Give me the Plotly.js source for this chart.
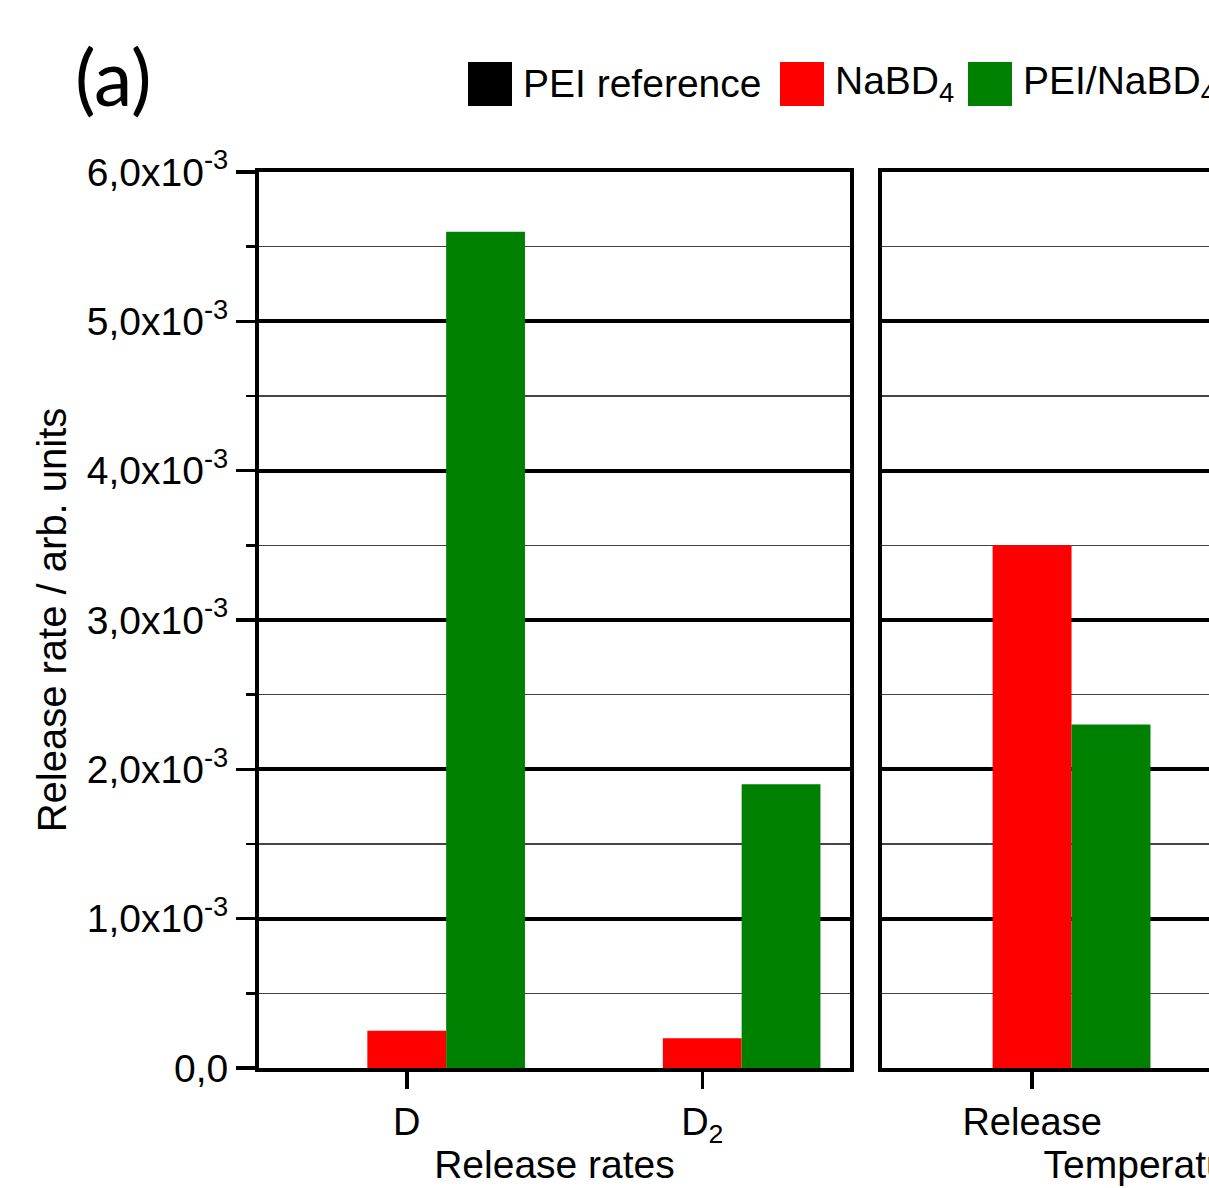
<!DOCTYPE html>
<html>
<head>
<meta charset="utf-8">
<script src="https://cdn.plot.ly/plotly-3.0.1.min.js"></script>
<style>
html, body { margin: 0; padding: 0; overflow: hidden; background: #fff; }
#chart { width: 1500px; height: 1188px; }
</style>
</head>
<body>
<div id="chart"></div>
<script>
// ---- data ----
const categoriesRates = ["D", "D<sub>2</sub>"];
const categoriesTemp = ["Release"];
const seriesNames = ["PEI reference", "NaBD<sub>4</sub>", "PEI/NaBD<sub>4</sub>"];
const seriesColors = ["#000000", "#ff0000", "#008000"];
const peiRefRates = [0, 0];
const nabd4Rates = [0.00025, 0.0002];
const peiNabd4Rates = [0.0056, 0.0019];
const peiRefTemp = [0];
const nabd4Temp = [0.0035];
const peiNabd4Temp = [0.0023];
const yTickVals = [0, 0.001, 0.002, 0.003, 0.004, 0.005, 0.006];
const yTickText = ["0,0", "1,0x10<sup>-3</sup>", "2,0x10<sup>-3</sup>", "3,0x10<sup>-3</sup>",
                   "4,0x10<sup>-3</sup>", "5,0x10<sup>-3</sup>", "6,0x10<sup>-3</sup>"];
const panelTitle = "(a)";
const xTitleRates = "Release rates";
const xTitleTemp = "Temperature";
const yTitle = "Release rate / arb. units";

// ---- layout geometry (pixels) ----
const W = 1500, H = 1188;
const M = {l: 259, r: 76, t: 172, b: 120};
const PW = W - M.l - M.r, PH = H - M.t - M.b;
const px2x = p => (p - M.l) / PW;
const py2y = p => (H - M.b - p) / PH;

const FONT = "Liberation Sans, Arial, sans-serif";
const rateSeries = [peiRefRates, nabd4Rates, peiNabd4Rates];
const tempSeries = [peiRefTemp, nabd4Temp, peiNabd4Temp];

const traces = [];
seriesNames.forEach((name, i) => {
  traces.push({type: "bar", x: categoriesRates, y: rateSeries[i], name: name,
    marker: {color: seriesColors[i], line: {width: 0}}, xaxis: "x", yaxis: "y", showlegend: false});
  traces.push({type: "bar", x: categoriesTemp, y: tempSeries[i], name: name,
    marker: {color: seriesColors[i], line: {width: 0}}, xaxis: "x2", yaxis: "y2", showlegend: false});
});

const commonX = {
  type: "category", showline: true, linewidth: 4, linecolor: "#000", mirror: true,
  ticks: "outside", ticklen: 17, tickwidth: 3.5, tickcolor: "#000",
  showgrid: false, zeroline: false,
  tickfont: {family: FONT, size: 38, color: "#000"}
};
const commonY = {
  range: [0, 0.006], showline: true, linewidth: 4, linecolor: "#000", mirror: true,
  tickmode: "array", tickvals: yTickVals, ticktext: yTickText,
  showgrid: true, gridcolor: "#000", gridwidth: 4, zeroline: false,
  minor: {tickmode: "linear", tick0: 0, dtick: 0.0005, showgrid: true, gridcolor: "#444", gridwidth: 1.5,
          ticks: "outside", ticklen: 9, tickwidth: 2.5, tickcolor: "#000"},
  ticks: "outside", ticklen: 19, tickwidth: 3.5, tickcolor: "#000",
  tickfont: {family: FONT, size: 39, color: "#000"}
};

const legX = [468, 780, 968];
const legY = 84, sw = 44;
const shapes = seriesNames.map((n, i) => ({
  type: "rect", xref: "paper", yref: "paper",
  x0: px2x(legX[i]), x1: px2x(legX[i] + sw), y0: py2y(legY + sw / 2), y1: py2y(legY - sw / 2),
  fillcolor: seriesColors[i], line: {width: 0}
}));
const annotations = seriesNames.map((n, i) => ({
  text: n, xref: "paper", yref: "paper", x: px2x(legX[i] + sw + 9), y: py2y(legY),
  xanchor: "left", yanchor: "middle", showarrow: false,
  font: {family: FONT, size: 39, color: "#000"}
}));
annotations.push({
  text: panelTitle, xref: "paper", yref: "paper", x: px2x(73), y: py2y(76),
  xanchor: "left", yanchor: "middle", showarrow: false,
  font: {family: "Lato, Open Sans, sans-serif", size: 77, color: "#000"}
});

const layout = {
  width: W, height: H, margin: M,
  paper_bgcolor: "#fff", plot_bgcolor: "#fff",
  barmode: "group", bargap: 0.2, bargroupgap: 0,
  showlegend: false,
  xaxis: Object.assign({}, commonX, {domain: [0, px2x(850)], range: [-0.5, 1.5],
    title: {text: xTitleRates, font: {family: FONT, size: 39, color: "#000"}, standoff: 4}, anchor: "y"}),
  xaxis2: Object.assign({}, commonX, {domain: [px2x(882), 1], range: [-0.507, 1.324],
    title: {text: xTitleTemp, font: {family: FONT, size: 39, color: "#000"}, standoff: 4}, anchor: "y2"}),
  yaxis: Object.assign({}, commonY, {anchor: "x",
    title: {text: yTitle, font: {family: FONT, size: 40, color: "#000"}, standoff: 9}}),
  yaxis2: Object.assign({}, commonY, {anchor: "x2", showticklabels: false, ticks: "",
    minor: Object.assign({}, commonY.minor, {ticks: ""})}),
  shapes: shapes,
  annotations: annotations
};

Plotly.newPlot("chart", traces, layout, {staticPlot: true, displayModeBar: false});
</script>
</body>
</html>
